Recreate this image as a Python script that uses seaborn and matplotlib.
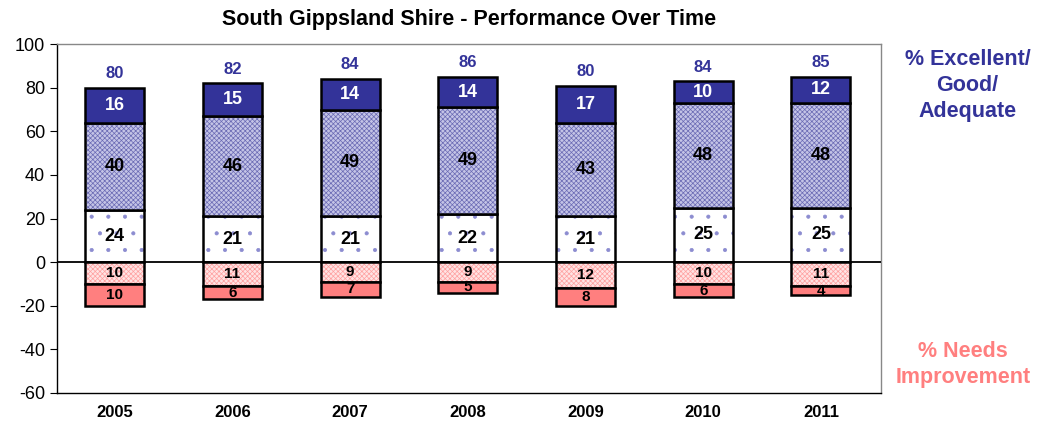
import matplotlib
matplotlib.use("Agg")
import matplotlib.pyplot as plt
import seaborn as sns
import pandas as pd
import numpy as np

years = ['2005', '2006', '2007', '2008', '2009', '2010', '2011']
adequate = [24, 21, 21, 22, 21, 25, 25]
good = [40, 46, 49, 49, 43, 48, 48]
excellent = [16, 15, 14, 14, 17, 10, 12]
totals = [80, 82, 84, 86, 80, 84, 85]
needs_some = [10, 11, 9, 9, 12, 10, 11]
needs_lot = [10, 6, 7, 5, 8, 6, 4]

sns.set_style("white")
plt.rcParams['font.family'] = ['Liberation Sans', 'DejaVu Sans']
plt.rcParams['hatch.linewidth'] = 0.5
plt.rcParams['axes.unicode_minus'] = False
plt.rcParams['text.color'] = 'black'
plt.rcParams['xtick.color'] = 'black'
plt.rcParams['ytick.color'] = 'black'

navy = '#333399'
pink = '#ff7f7f'

df = pd.DataFrame({'year': years, 'adequate': adequate, 'good': good,
                   'excellent': excellent, 'some': needs_some, 'lot': needs_lot})

fig = plt.figure(figsize=(10.37, 4.29), dpi=100)
ax = fig.add_axes([0.055, 0.084, 0.7945, 0.813])

b1 = np.zeros(len(years))
b2 = np.array(adequate, dtype=float)
b3 = b2 + np.array(good)
nb1 = -np.array(needs_some, dtype=float)

# segments: (values, bottom, facecolor, hatch colour, hatch)
segs = [
    (df['adequate'], b1, 'white', '#8c8cd0', '.'),
    (df['good'], b2, '#c4c4e6', '#6a6ab4', 'xxxxxxx'),
    (df['excellent'], b3, navy, navy, None),
    (-df['some'], b1, '#ffe4e4', '#ffa0a0', 'xxxxxxx'),
    (-df['lot'], nb1, pink, pink, None),
]
for vals, bot, fc, hc, hatch in segs:
    sns.barplot(x=df['year'], y=vals, bottom=bot, color=fc, ax=ax, width=0.5,
                hatch=hatch, edgecolor=hc, linewidth=0, saturation=1)
    sns.barplot(x=df['year'], y=vals, bottom=bot, color='white', ax=ax, width=0.5,
                fill=False, edgecolor='black', linewidth=1.8)

ax.axhline(0, color='black', lw=1.3, zorder=5)

for i in range(len(years)):
    ax.text(i, adequate[i] / 2, str(adequate[i]), ha='center', va='center',
            fontsize=13, fontweight='bold', color='black', zorder=6)
    ax.text(i, b3[i] - good[i] / 2, str(good[i]), ha='center', va='center',
            fontsize=13, fontweight='bold', color='black', zorder=6)
    ax.text(i, b3[i] + excellent[i] / 2, str(excellent[i]), ha='center', va='center',
            fontsize=13, fontweight='bold', color='white', zorder=6)
    ax.text(i, b3[i] + excellent[i] + 6.5, str(totals[i]), ha='center', va='center',
            fontsize=12, fontweight='bold', color=navy, zorder=6)
    ax.text(i, -needs_some[i] / 2, str(needs_some[i]), ha='center', va='center',
            fontsize=11, fontweight='bold', color='black', zorder=6)
    ax.text(i, -needs_some[i] - needs_lot[i] / 2, str(needs_lot[i]), ha='center',
            va='center', fontsize=11, fontweight='bold', color='black', zorder=6)

ax.set_ylim(-60, 100)
ax.set_xlim(-0.49, 6.51)
ax.set_yticks(range(-60, 101, 20))
ax.set_xlabel('')
ax.set_ylabel('')
ax.tick_params(axis='y', labelsize=13, length=5, direction='out', left=True)
ax.tick_params(axis='x', labelsize=12, length=0, pad=9)
for lab in ax.get_xticklabels():
    lab.set_fontweight('bold')
for side, sp in ax.spines.items():
    sp.set_color('#888888' if side in ('top', 'right') else 'black')
    sp.set_linewidth(1)

ax.set_title('South Gippsland Shire - Performance Over Time', fontsize=15.5,
             fontweight='bold', pad=14)

fig.text(0.933, 0.80, '% Excellent/\nGood/\nAdequate', ha='center', va='center',
         fontsize=15.5, fontweight='bold', color=navy, linespacing=1.3)
fig.text(0.929, 0.15, '% Needs\nImprovement', ha='center', va='center',
         fontsize=15.5, fontweight='bold', color=pink, linespacing=1.3)

fig.savefig('out.png', dpi=100)
